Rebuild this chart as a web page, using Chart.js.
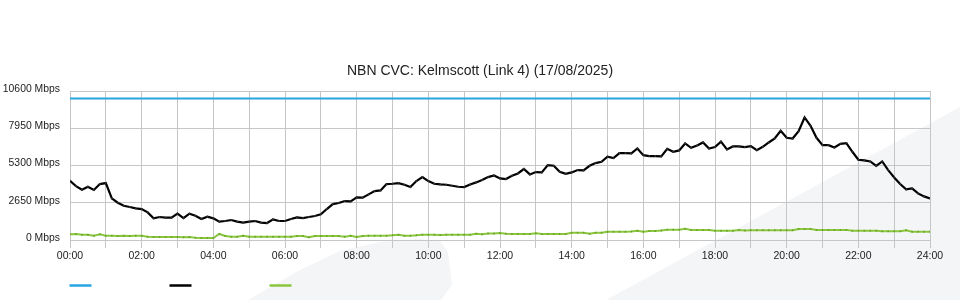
<!DOCTYPE html>
<html>
<head>
<meta charset="utf-8">
<script src="https://cdn.jsdelivr.net/npm/chart.js@4.4.1/dist/chart.umd.min.js"></script>
<style>
  html, body { margin: 0; padding: 0; background: #ffffff; }
  #wrap { width: 960px; height: 300px; position: relative; }
</style>
</head>
<body>
<div id="wrap"><canvas id="c" width="960" height="300"></canvas></div>
<script>
const chartTitle = "NBN CVC: Kelmscott (Link 4) (17/08/2025)";
const yTicks = [0, 2650, 5300, 7950, 10600];
const xTickLabels = ["00:00","02:00","04:00","06:00","08:00","10:00","12:00","14:00","16:00","18:00","20:00","22:00","24:00"];

// minutes since midnight (10-minute samples)
const times = [0,10,20,30,40,50,60,70,80,90,100,110,120,130,140,150,160,170,180,190,200,210,220,230,240,250,260,270,280,290,300,310,320,330,340,350,360,370,380,390,400,410,420,430,440,450,460,470,480,490,500,510,520,530,540,550,560,570,580,590,600,610,620,630,640,650,660,670,680,690,700,710,720,730,740,750,760,770,780,790,800,810,820,830,840,850,860,870,880,890,900,910,920,930,940,950,960,970,980,990,1000,1010,1020,1030,1040,1050,1060,1070,1080,1090,1100,1110,1120,1130,1140,1150,1160,1170,1180,1190,1200,1210,1220,1230,1240,1250,1260,1270,1280,1290,1300,1310,1320,1330,1340,1350,1360,1370,1380,1390,1400,1410,1420,1430,1440];

// capacity line (Mbps)
const capacityTimes = [0, 1440];
const capacity = [10070, 10070];

// traffic (Mbps)
const traffic = [4216,3837,3576,3789,3560,3979,4050,2960,2652,2439,2345,2250,2203,1966,1540,1634,1587,1587,1871,1563,1871,1729,1492,1658,1540,1303,1350,1421,1303,1232,1303,1350,1232,1208,1468,1350,
1350,1492,1610,1563,1634,1705,1824,2203,2558,2629,2771,2747,3031,3008,3245,3481,3529,3979,4002,4050,3931,3766,4192,4476,4192,4002,3955,3931,3860,3789,3766,3955,4097,4263,4476,4595,
4381,4334,4571,4737,5050,4666,4831,4808,5330,5280,4855,4713,4808,4974,4950,5281,5471,5565,5921,5826,6181,6181,6158,6513,6039,5968,5968,5945,6489,6276,6371,6868,6560,6726,6939,6513,
6608,7000,6442,6655,6655,6608,6679,6395,6631,6939,7223,7768,7271,7223,7744,8716,8123,7271,6750,6750,6584,6844,6892,6276,5708,5660,5589,5281,5589,4974,4452,3979,3600,3671,3316,3103,2960];

// second series (Mbps)
const secondary = [403,426,379,379,308,403,308,308,284,308,284,308,308,237,213,213,213,213,213,190,213,166,142,142,142,430,284,237,237,308,237,237,237,237,237,237,
237,237,284,284,190,284,284,284,284,284,237,308,213,284,308,308,308,308,330,379,308,308,330,379,379,379,355,379,379,379,379,379,450,403,470,470,
497,450,426,426,426,426,474,426,426,426,426,426,521,521,521,450,521,521,592,592,592,592,600,663,592,640,640,680,734,734,734,805,710,710,710,710,663,
663,663,663,710,680,687,687,687,687,687,687,687,687,782,782,782,710,710,710,710,720,720,663,663,663,663,663,616,616,616,616,700,592,592,592,592];

const BLUE = '#29a6e0', BLACK = '#000000', GREEN = '#8cc63f';
const GRID = '#c6c6c6';
const FONT = "'Liberation Sans', Arial, Helvetica, sans-serif";

const toXY = (xs, ys) => xs.map((x, i) => ({ x: x, y: ys[i] }));

const watermark = {
  id: 'watermark',
  beforeDraw(chart) {
    const ctx = chart.ctx;
    ctx.save();
    ctx.fillStyle = '#f4f5f7';
    ctx.beginPath();
    ctx.moveTo(248, 300);
    ctx.lineTo(300, 270);
    ctx.lineTo(340, 251);
    ctx.lineTo(380, 242);
    ctx.lineTo(420, 239);
    ctx.lineTo(440, 241);
    ctx.lineTo(448, 252);
    ctx.lineTo(452, 285);
    ctx.lineTo(441, 300);
    ctx.closePath();
    ctx.fill();
    ctx.beginPath();
    ctx.moveTo(606, 300);
    ctx.lineTo(960, 107);
    ctx.lineTo(960, 300);
    ctx.closePath();
    ctx.fill();
    ctx.restore();
  }
};

const titleAndLegend = {
  id: 'titleAndLegend',
  afterDraw(chart) {
    const ctx = chart.ctx;
    ctx.save();
    ctx.fillStyle = '#222';
    ctx.font = "14px " + FONT;
    ctx.textAlign = 'center';
    ctx.textBaseline = 'middle';
    ctx.fillText(chartTitle, 480, 71);
    const cols = [BLUE, BLACK, GREEN];
    ctx.lineWidth = 2.5;
    cols.forEach((c, i) => {
      ctx.strokeStyle = c;
      ctx.beginPath();
      ctx.moveTo(69.5 + i * 100, 285.5);
      ctx.lineTo(91.5 + i * 100, 285.5);
      ctx.stroke();
    });
    ctx.restore();
  }
};

new Chart(document.getElementById('c'), {
  type: 'line',
  data: {
    datasets: [
      { label: '', data: toXY(capacityTimes, capacity), borderColor: BLUE, borderWidth: 2, pointRadius: 0, tension: 0 },
      { label: '', data: toXY(times, traffic), borderColor: BLACK, borderWidth: 2.2, pointRadius: 1, pointBackgroundColor: '#333', pointBorderWidth: 0, tension: 0 },
      { label: '', data: toXY(times, secondary), borderColor: GREEN, borderWidth: 2, pointRadius: 1, pointBackgroundColor: '#6aa82a', pointBorderWidth: 0, tension: 0 }
    ]
  },
  options: {
    responsive: false,
    animation: false,
    devicePixelRatio: 1,
    layout: { padding: { left: 0, right: 30, top: 91, bottom: 36 } },
    plugins: {
      legend: { display: false },
      tooltip: { enabled: false },
      title: { display: false }
    },
    scales: {
      x: {
        type: 'linear',
        min: 0,
        max: 1440,
        afterFit(scale) { scale.height = 24; },
        afterBuildTicks(scale) {
          const t = [];
          for (let m = 0; m <= 1440; m += 60) t.push({ value: m });
          scale.ticks = t;
        },
        ticks: {
          autoSkip: false,
          maxRotation: 0,
          padding: 2,
          color: '#222',
          font: { family: FONT, size: 10.5 },
          callback(v) { return v % 120 === 0 ? xTickLabels[v / 120] : ''; }
        },
        grid: { color: GRID, lineWidth: 1, tickLength: 8, drawTicks: true },
        border: { display: false }
      },
      y: {
        min: 0,
        max: 10600,
        afterFit(scale) { scale.width = 70; },
        afterBuildTicks(scale) { scale.ticks = yTicks.map(v => ({ value: v })); },
        ticks: {
          padding: 10,
          labelOffset: -2,
          color: '#222',
          font: { family: FONT, size: 10.4 },
          callback(v) { return v + ' Mbps'; }
        },
        grid: { color: GRID, lineWidth: 1, drawTicks: false },
        border: { display: false }
      }
    }
  },
  plugins: [watermark, titleAndLegend]
});
</script>
</body>
</html>
